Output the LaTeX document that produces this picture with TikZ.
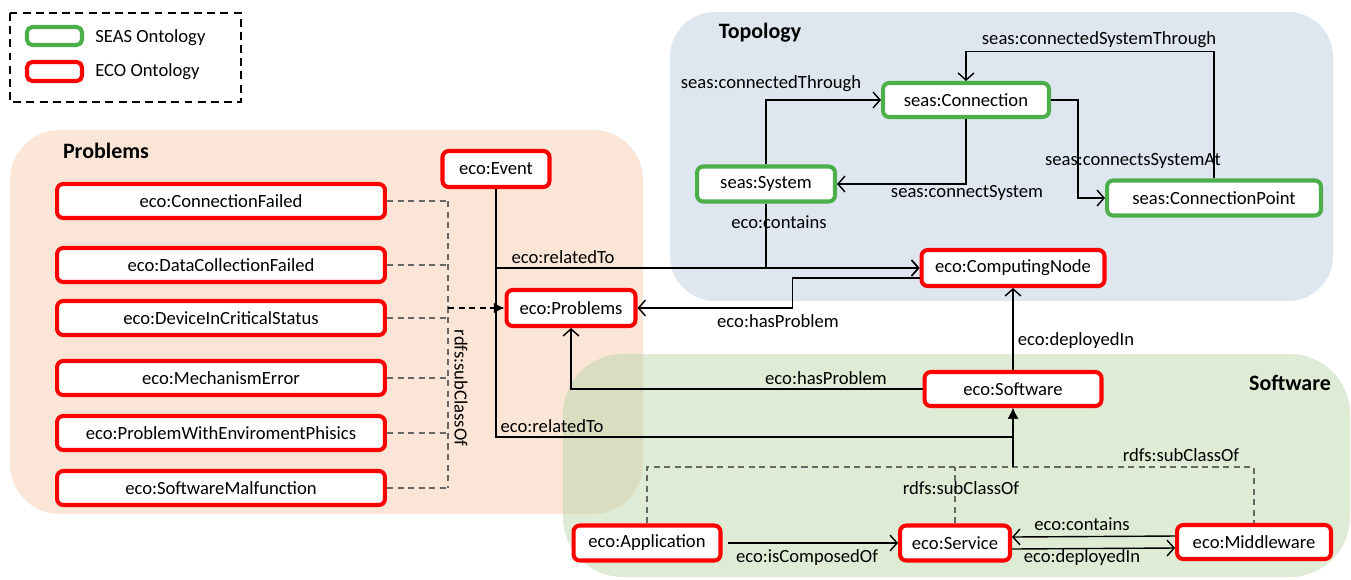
\documentclass[tikz,border=0pt]{standalone}
\usepackage{fontspec}
\setmainfont{Carlito}
\usetikzlibrary{arrows.meta}

\definecolor{ecored}{RGB}{255,0,0}
\definecolor{seasgreen}{RGB}{76,175,74}
\definecolor{probfill}{RGB}{251,229,214}
\definecolor{topofill}{RGB}{222,230,239}
\definecolor{softfill}{RGB}{189,215,171}

\tikzset{
  box/.style={draw, rounded corners=3.5pt, line width=2.3pt, fill=white,
    inner sep=0pt, font=\fontsize{10.6}{12}\selectfont},
  eco/.style={box, draw=ecored},
  seas/.style={box, draw=seasgreen},
  rel/.style={line width=0.8pt, -{Straight Barb[length=4pt,width=9pt]}},
  isa/.style={line width=0.8pt, -{Latex[length=6pt,width=6pt]}},
  sub/.style={line width=0.7pt, gray!80!black, dash pattern=on 3.5pt off 2.5pt},
  lbl/.style={font=\fontsize{10.6}{12}\selectfont, inner sep=0pt},
  title/.style={font=\bfseries\fontsize{12.5}{14}\selectfont, inner sep=0pt},
}

\begin{document}
\begin{tikzpicture}[x=0.02cm, y=-0.02cm]
    \useasboundingbox (0,0) rectangle (1351,579);

    % groups
    \fill[probfill, rounded corners=1cm] (10,130) rectangle (643,514);
    \fill[topofill, rounded corners=0.9cm] (670,12) rectangle (1333,301);
    \fill[softfill, fill opacity=0.5, rounded corners=1.2cm] (563,354) rectangle (1350,577);
    \node[title] (ttopo) at (760,33) {Topology};
    \node[title] (tprob) at (106,151) {Problems};
    \node[title] (tsoft) at (1290,383) {Software};

    % legend
    \draw[line width=1.3pt, dash pattern=on 4.5pt off 3pt] (10,13) rectangle (241,102);
    \draw[seasgreen, line width=2.3pt, rounded corners=3pt] (27,27) rectangle (82,45);
    \draw[ecored, line width=2.3pt, rounded corners=3pt] (27,62) rectangle (82,81);
    \node[lbl, anchor=west] (lseas) at (95,38) {SEAS Ontology};
    \node[lbl, anchor=west] (leco) at (95,72) {ECO Ontology};

    % problem classes
    \foreach \name/\txt/\y in {cf/ConnectionFailed/201, dcf/DataCollectionFailed/265,
        dics/DeviceInCriticalStatus/318, me/MechanismError/378,
        pwep/ProblemWithEnviromentPhisics/433, sm/SoftwareMalfunction/488}
        \node[eco, minimum width=6.56cm, minimum height=0.68cm] (\name) at (221,\y) {eco:\txt};

    \node[eco, minimum width=2.14cm, minimum height=0.72cm] (event) at (496,169) {eco:Event};
    \node[eco, minimum width=2.58cm, minimum height=0.72cm] (prob) at (571,308) {eco:Problems};

    % topology
    \node[seas, minimum width=3.32cm, minimum height=0.68cm] (conn) at (966,100) {seas:Connection};
    \node[seas, minimum width=2.76cm, minimum height=0.70cm] (sys) at (766,184) {seas:System};
    \node[seas, minimum width=4.28cm, minimum height=0.70cm] (cp) at (1214,198) {seas:ConnectionPoint};
    \node[eco, minimum width=3.66cm, minimum height=0.72cm] (cnode) at (1013,268) {eco:ComputingNode};

    % software
    \node[eco, minimum width=3.54cm, minimum height=0.68cm] (sw) at (1013,389) {eco:Software};
    \node[eco, minimum width=2.94cm, minimum height=0.70cm] (app) at (647,543) {eco:Application};
    \node[eco, minimum width=2.20cm, minimum height=0.70cm] (serv) at (955,543) {eco:Service};
    \node[eco, minimum width=3.08cm, minimum height=0.68cm] (mw) at (1254,542) {eco:Middleware};

    % subclasses of eco:Problems
    \coordinate (bus) at (448,308);
    \foreach \name in {cf,dcf,dics,me,pwep,sm}
        \draw[sub] (\name.east) -- (\name.east -| bus);
    \draw[sub] (cf.east -| bus) -- (sm.east -| bus);
    \draw[isa, dash pattern=on 3.5pt off 2.5pt] (bus) -- (prob.west);
    \node[lbl, rotate=-90] (lsub) at (461,388) {rdfs:subClassOf};

    % topology relations
    \draw[rel] (sys.north) |- (conn.west);
    \node[lbl] at (771,84) {seas:connectedThrough};
    \draw[rel] (conn.south) |- (sys.east);
    \node[lbl] at (967,193) {seas:connectSystem};
    \draw[rel] (conn.east) -- ++(27,0) |- (cp.west);
    \node[lbl] at (1133,161) {seas:connectsSystemAt};
    \draw[rel] (cp.north) -- ++(0,-127) -| (conn.north);
    \node[lbl] at (1099,40) {seas:connectedSystemThrough};
    \draw[rel] (sys.south) |- (cnode.west);
    \node[lbl] at (779,222) {eco:contains};

    % event and problems
    \draw[rel] (event.south) |- (cnode.west);
    \node[lbl] at (563,257) {eco:relatedTo};
    \coordinate (subjoin) at (sw.south |- 0,467);
    \draw[isa] (event.south) -- (event.south |- 0,437) -| (sw.south);
    \node[lbl] at (552,426) {eco:relatedTo};
    \draw[rel] ([yshift=-0.2cm]cnode.west) -- ++(-127,0) |- (prob.east);
    \node[lbl] at (778,321) {eco:hasProblem};
    \draw[rel] (sw.west) -| (prob.south);
    \node[lbl] at (826,378) {eco:hasProblem};
    \draw[rel] (sw.north) -- (cnode.south);
    \node[lbl] at (1076,341) {eco:deployedIn};

    % software relations
    \draw[sub] (app.north) -- (app.north |- subjoin) -- (mw.north |- subjoin) -- (mw.north);
    \draw[sub] (serv.north) -- (serv.north |- subjoin);
    \draw[isa] (subjoin) -- (sw.south);
    \node[lbl] at (961,488) {rdfs:subClassOf};
    \node[lbl] at (1181,455) {rdfs:subClassOf};
    \draw[rel, shorten <=3pt] (app.east) -- (serv.west);
    \node[lbl] at (807,558) {eco:isComposedOf};
    \draw[rel] ([yshift=0.12cm]mw.west) -- ([yshift=0.12cm]serv.east);
    \node[lbl] at (1082,524) {eco:contains};
    \draw[rel] ([yshift=-0.12cm]serv.east) -- ([yshift=-0.12cm]mw.west);
    \node[lbl] at (1082,558) {eco:deployedIn};
\end{tikzpicture}
\end{document}
